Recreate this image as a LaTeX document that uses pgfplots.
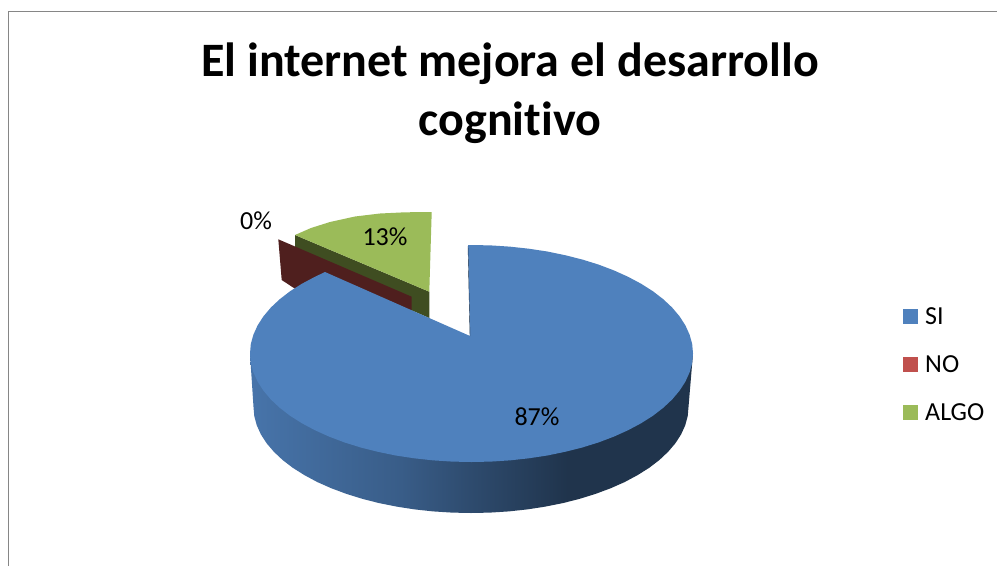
\documentclass[border=0pt]{standalone}
\usepackage{pgfplots}
\pgfplotsset{compat=1.18}
\usepackage{fontspec}
\setmainfont[Ligatures=CommonOff]{Carlito}
\definecolor{piblue}{HTML}{4F81BD}
\definecolor{pired}{HTML}{C0504D}
\definecolor{pigreen}{HTML}{9BBB59}
\definecolor{darkgreen}{HTML}{3F4D21}
\definecolor{maroon}{HTML}{4F1F1E}
\definecolor{framegray}{HTML}{868686}
\pgfdeclarehorizontalshading{sideblue}{100bp}{
 color(0bp)=(piblue!90!black);
 color(25bp)=(piblue!90!black);
 color(42bp)=(piblue!72!black);
 color(50bp)=(piblue!58!black);
 color(61bp)=(piblue!40!black);
 color(100bp)=(piblue!40!black)}
\begin{document}
\begin{tikzpicture}
\begin{axis}[
  scale only axis, width=997pt, height=566pt,
  xmin=0, xmax=997, ymin=0, ymax=566, y dir=reverse,
  hide axis, clip=true]
% page
\addplot[fill=white, draw=none] coordinates {(0,0)(997,0)(997,566)(0,566)} -- cycle;
% frame
\addplot[framegray, line width=1.5pt] coordinates {(8.5,566)(8.5,11.5)(997,11.5)};
% green side
\addplot[fill=darkgreen, draw=none] coordinates {(295,235)(429.3,291.7)(429.3,318)(295,260)} -- cycle;
% green top
\addplot[fill=pigreen, draw=none] coordinates {(295,235)(311,228)(330,222)(355,216.5)(380,213.5)(405,212.3)(431.7,212)(429.3,291.7)} -- cycle;
% maroon side
\addplot[fill=maroon, draw=none] coordinates {(278.3,239.3)(411.7,296.7)(411.7,312)(300,292)(281.7,280)} -- cycle;
% blue side
\addplot[shade, shading=sideblue, draw=none] coordinates {
(693,353.5)(688.5,407)(687.7,416.2)(685.2,425.4)(681.1,434.4)(675.4,443.25)(668.1,451.8)(659.4,460)(649.2,467.8)(637.6,475.1)(624.8,482)(610.8,488.2)(595.8,493.8)(579.75,498.8)(562.9,503.1)(545.4,506.6)(527.3,509.4)(508.8,511.4)(490,512.6)(471,513)(452,512.6)(433.2,511.4)(414.7,509.4)(396.6,506.6)(379.1,503.1)(362.25,498.8)(346.2,493.8)(331.2,488.2)(317.2,482)(304.4,475.1)(292.8,467.8)(282.6,460)(273.9,451.8)(266.6,443.25)(260.9,434.4)(256.8,425.4)(254.3,416.2)(253.5,407)(250,353.5)(471,353.5)} -- cycle;
% blue top
\addplot[fill=piblue, draw=none] coordinates {
(468,245.1)(471.5,245)(490.8,245.4)(510,246.65)(528.8,248.7)(547.3,251.5)(565.1,255.2)(582.25,259.5)(598.6,264.6)(613.9,270.4)(628.1,276.8)(641.2,283.8)(653,291.3)(663.3,299.25)(672.2,307.6)(679.6,316.4)(685.4,325.4)(689.6,334.7)(692.2,344)(693,353.5)(692.2,363)(689.6,372.3)(685.4,381.6)(679.6,390.6)(672.2,399.4)(663.3,407.75)(653,415.7)(641.2,423.2)(628.1,430.2)(613.9,436.6)(598.6,442.4)(582.25,447.5)(565.1,451.8)(547.3,455.5)(528.8,458.3)(510,460.35)(490.8,461.6)(471.5,462)(452.2,461.6)(433,460.35)(414.2,458.3)(395.7,455.5)(377.9,451.8)(360.75,447.5)(344.4,442.4)(329.1,436.6)(314.9,430.2)(301.8,423.2)(290,415.7)(279.7,407.75)(270.8,399.4)(263.4,390.6)(257.6,381.6)(253.4,372.3)(250.8,363)(250,353.5)(250.8,344)(253.4,334.7)(257.6,325.4)(263.4,316.4)(270.8,307.6)(279.7,299.25)(290,291.3)(301.8,283.8)(314.9,276.8)(325,272)(470,336)} -- cycle;
\addplot[piblue!40!black, line width=0.4pt] coordinates {(468,246)(470,336)};
% legend keys
\addplot[fill=piblue, draw=none] coordinates {(903,309)(918,309)(918,324)(903,324)} -- cycle;
\addplot[fill=pired, draw=none] coordinates {(903,357)(918,357)(918,372)(903,372)} -- cycle;
\addplot[fill=pigreen, draw=none] coordinates {(903,405)(918,405)(918,420)(903,420)} -- cycle;
% texts
\node[font=\fontsize{48}{56}\selectfont\bfseries, anchor=center] at (axis cs:510,64) {El internet mejora el desarrollo};
\node[font=\fontsize{48}{56}\selectfont\bfseries, anchor=center] at (axis cs:510,123) {cognitivo};
\node[font=\fontsize{26}{30}\selectfont, anchor=center] at (axis cs:256,221) {0\%};
\node[font=\fontsize{26}{30}\selectfont, anchor=center] at (axis cs:385,237) {13\%};
\node[font=\fontsize{26}{30}\selectfont, anchor=center] at (axis cs:537,417) {87\%};
\node[font=\fontsize{26}{30}\selectfont, anchor=west, inner sep=0pt] at (axis cs:925,316) {SI};
\node[font=\fontsize{26}{30}\selectfont, anchor=west, inner sep=0pt] at (axis cs:925,364) {NO};
\node[font=\fontsize{26}{30}\selectfont, anchor=west, inner sep=0pt] at (axis cs:925,412) {ALGO};
\end{axis}
\end{tikzpicture}
\end{document}
